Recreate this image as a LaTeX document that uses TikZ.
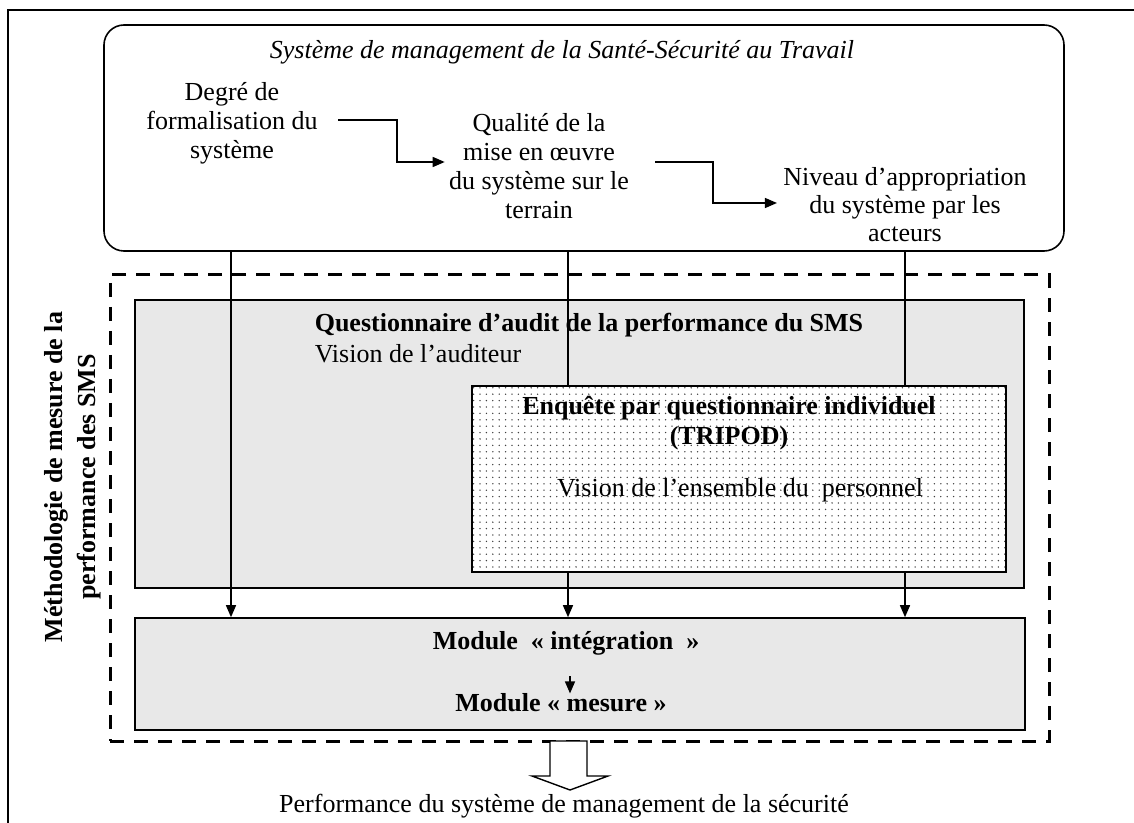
\documentclass[tikz,border=0pt]{standalone}
\usepackage{fontspec}
\setmainfont{Liberation Serif}
\usetikzlibrary{arrows.meta,patterns,positioning}

\pgfdeclarepatternformonly{pointille}{\pgfqpoint{-1pt}{-1pt}}{\pgfqpoint{1pt}{1pt}}{\pgfqpoint{3.2pt}{3.2pt}}{%
  \pgfpathcircle{\pgfqpoint{0pt}{0pt}}{0.38pt}\pgfusepath{fill}}

\begin{document}
\begin{tikzpicture}[x=0.5pt,y=-0.5pt,
    txt/.style={align=center, font=\fontsize{13}{14.5}\selectfont, inner sep=0pt},
    gras/.style={txt, font=\fontsize{13}{15}\selectfont\bfseries},
    flow/.style={-{Triangle[length=6pt,width=5pt]}, line width=0.7pt},
    link/.style={line width=0.7pt},
    grisbox/.style={draw, fill=black!9, line width=0.8pt, inner sep=0pt},
  ]
  \useasboundingbox (0,0) rectangle (1134,823);
  % cadre
  \draw[line width=0.8pt] (8,823) -- (8,10) -- (1134,10);

  % systeme de management
  \node[draw, rounded corners=10pt, line width=0.8pt, minimum width=480pt, minimum height=113pt] (sms) at (584,138) {};
  \node[txt, font=\fontsize{13}{15}\selectfont\itshape] (titre) at (562,52) {Système de management de la Santé-Sécurité au Travail};
  \node[txt] (degre) at (232,123) {Degré de\\formalisation du\\système};
  \node[txt] (qualite) at (539,166) {Qualité de la\\mise en œuvre\\du système sur le\\terrain};
  \node[txt, font=\fontsize{13}{14}\selectfont] (niveau) at (905,205) {Niveau d’appropriation\\du système par les\\acteurs};

  % methodologie
  \node[draw, line width=1.5pt, dash pattern=on 7pt off 5pt, minimum width=469.5pt, minimum height=233pt, inner sep=0pt] (metbox) at (579.5,508) {};
  \node[gras, font=\fontsize{13}{16.5}\selectfont\bfseries, rotate=90] (metho) at (73,477) {Méthodologie de mesure de la\\performance des SMS};

  \node[grisbox, minimum width=444.5pt, minimum height=144pt] (audit) at (579.5,444) {};
  \node[gras] (audittitre) at (589,325) {Questionnaire d’audit de la performance du SMS};
  \node[txt, anchor=west] (auditeur) at (audittitre.west |- 0,354) {Vision de l’auditeur};

  \node[draw, line width=0.8pt, preaction={fill=white}, pattern=pointille, pattern color=black!75, minimum width=267pt, minimum height=93pt, inner sep=0pt] (tripod) at (739,479) {};
  \node[gras] (enquete) at (729,423) {Enquête par questionnaire individuel\\(TRIPOD)};
  \node[txt] (personnel) at (740,490) {Vision de l’ensemble du~ personnel};

  \node[grisbox, minimum width=445pt, minimum height=56pt] (module) at (580,674) {};
  \node[gras] (integ) at (566,643) {Module~ « intégration~ »};
  \node[gras] (mesure) at (561,703) {Module « mesure »};

  \node[txt] (perf) at (564,806) {Performance du système de management de la sécurité};

  % fleches du haut
  \coordinate (c1) at (231,0);
  \coordinate (c2) at (568,0);
  \coordinate (c3) at (905,0);
  \coordinate (h1) at (0,120);
  \coordinate (h2) at (0,162);
  \coordinate (h3) at (0,203);
  \draw[flow] (338,0 |- h1) -| (397,0 |- h2) -- ([xshift=-2pt]qualite.west |- h2);
  \draw[flow] (655,0 |- h2) -| (713,0 |- h3) -- ([xshift=-3pt]niveau.west |- h3);

  % fleches verticales
  \draw[flow] (sms.south -| c1) -- (module.north -| c1);
  \draw[link] (sms.south -| c2) -- (tripod.north -| c2);
  \draw[link] (sms.south -| c3) -- (tripod.north -| c3);
  \draw[flow] (tripod.south -| c2) -- (module.north -| c2);
  \draw[flow] (tripod.south -| c3) -- (module.north -| c3);
  \draw[flow] (570,676) -- (mesure.north -| 570,0);

  % grosse fleche
  \draw[line width=0.7pt, fill=white] (550,741) -- (550,776) -- (532,776) -- (570,790) -- (608,776) -- (587,776) -- (587,741) -- cycle;
\end{tikzpicture}
\end{document}
